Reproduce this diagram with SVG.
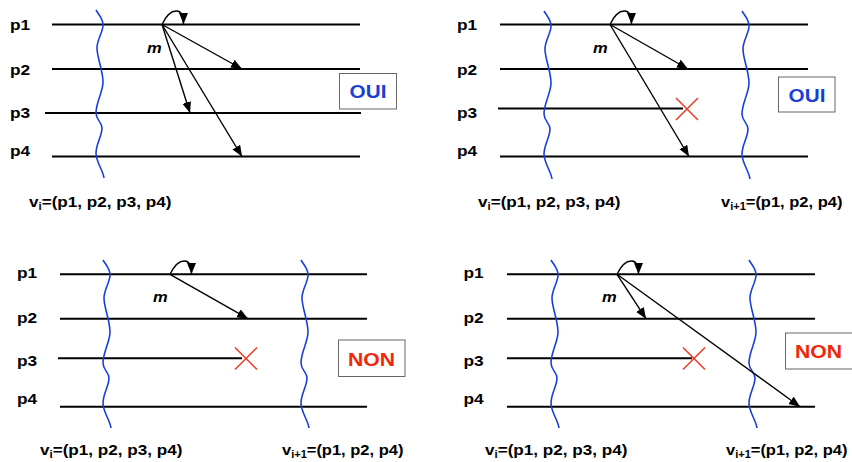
<svg xmlns="http://www.w3.org/2000/svg" xmlns:xlink="http://www.w3.org/1999/xlink" width="852" height="462" viewBox="0 0 852 462">
<style>
.proc{stroke:#000;stroke-width:2;fill:none}
.cut{stroke:#1a3fd8;stroke-width:1.6;fill:none}
.msg{stroke:#000;stroke-width:1.4;fill:none;marker-end:url(#ah)}
.lbl{font-family:"Liberation Sans",Arial,Helvetica,sans-serif;font-weight:bold;font-size:15px;fill:#000}
.vlbl{font-family:"Liberation Sans",Arial,Helvetica,sans-serif;font-weight:bold;font-size:15px;fill:#000}
.sub{font-size:10px}
.m{font-family:"Liberation Sans",Arial,Helvetica,sans-serif;font-weight:bold;font-style:italic;font-size:14px;fill:#000}
.box{fill:#fff;stroke:#666;stroke-width:1}
.oui{font-family:"Liberation Sans",Arial,Helvetica,sans-serif;font-weight:bold;font-size:18px;fill:#1a3fd8}
.non{font-family:"Liberation Sans",Arial,Helvetica,sans-serif;font-weight:bold;font-size:18px;fill:#f0280a}
.x{stroke:#ec3a22;stroke-width:1.5;fill:none}
</style>
<defs>
<marker id="ah" markerUnits="userSpaceOnUse" markerWidth="12" markerHeight="10" refX="11" refY="4.5" orient="auto">
<path d="M0,0 L11,4.5 L0,9 z" fill="#000"/>
</marker>
<path id="wave" d="M0,0 C3,5 8,10 7,16 C6,24 1,30 1,38 C1,48 7,60 7,72 C7,82 0,92 0,103 C0,110 6,112 6,118 C6,126 0,134 0,143 C0,152 7,160 8,168"/>
<path id="cross" d="M-11,-11 L11,11 M11,-11 L-11,11"/>
</defs>

<!-- Panel 1 -->
<g id="panel1">
<g id="p1-procs">
<line class="proc" x1="52" y1="24.5" x2="360" y2="24.5"/>
<line class="proc" x1="52" y1="69" x2="360" y2="69"/>
<line class="proc" x1="45" y1="113" x2="361" y2="113"/>
<line class="proc" x1="52" y1="156.5" x2="360" y2="156.5"/>
</g>
<g id="p1-labels">
<text class="lbl" transform="translate(10,30) scale(1.15,1)">p1</text>
<text class="lbl" transform="translate(10,74.5) scale(1.15,1)">p2</text>
<text class="lbl" transform="translate(10,118) scale(1.15,1)">p3</text>
<text class="lbl" transform="translate(10,155.5) scale(1.15,1)">p4</text>
<text class="m" transform="translate(147,53) scale(1.18,1)">m</text>
<text class="vlbl" transform="translate(29,207) scale(1.14,1)">v<tspan class="sub" dy="3">i</tspan><tspan dy="-3">=(p1, p2, p3, p4)</tspan></text>
</g>
<g id="p1-cut"><use href="#wave" xlink:href="#wave" class="cut" transform="translate(96,10)"/></g>
<g id="p1-box">
<rect class="box" x="339.5" y="73.5" width="57" height="35.5"/>
<text class="oui" text-anchor="middle" transform="translate(368,98) scale(1.15,1)">OUI</text>
</g>
</g>

<!-- Panel 2 -->
<g id="panel2">
<g id="p2-procs">
<line class="proc" x1="500" y1="24.5" x2="808" y2="24.5"/>
<line class="proc" x1="500" y1="69" x2="808" y2="69"/>
<line class="proc" x1="498" y1="108.5" x2="683" y2="108.5"/>
<line class="proc" x1="500" y1="156.5" x2="808" y2="156.5"/>
</g>
<g id="p2-labels">
<text class="lbl" transform="translate(457,30) scale(1.15,1)">p1</text>
<text class="lbl" transform="translate(457,74.5) scale(1.15,1)">p2</text>
<text class="lbl" transform="translate(457,118) scale(1.15,1)">p3</text>
<text class="lbl" transform="translate(457,155.5) scale(1.15,1)">p4</text>
<text class="m" transform="translate(593,53) scale(1.18,1)">m</text>
<text class="vlbl" transform="translate(478,207) scale(1.14,1)">v<tspan class="sub" dy="3">i</tspan><tspan dy="-3">=(p1, p2, p3, p4)</tspan></text>
<text class="vlbl" transform="translate(721,207) scale(1.1,1)">v<tspan class="sub" dy="3">i+1</tspan><tspan dy="-3">=(p1, p2, p4)</tspan></text>
</g>
<g id="p2-cuts">
<use href="#wave" xlink:href="#wave" class="cut" transform="translate(544,11)"/>
<use href="#wave" xlink:href="#wave" class="cut" transform="translate(742,11)"/>
</g>
<g id="p2-loss"><use href="#cross" xlink:href="#cross" class="x" transform="translate(687,109)"/></g>
<g id="p2-box">
<rect class="box" x="778.5" y="77" width="56.5" height="35"/>
<text class="oui" text-anchor="middle" transform="translate(807,101.5) scale(1.15,1)">OUI</text>
</g>
</g>

<!-- Panel 3 -->
<g id="panel3">
<g id="p3-procs">
<line class="proc" x1="60" y1="274.3" x2="367" y2="274.3"/>
<line class="proc" x1="60" y1="318.7" x2="367" y2="318.7"/>
<line class="proc" x1="58" y1="358.3" x2="242" y2="358.3"/>
<line class="proc" x1="60" y1="406.7" x2="367" y2="406.7"/>
</g>
<g id="p3-labels">
<text class="lbl" transform="translate(17,278) scale(1.15,1)">p1</text>
<text class="lbl" transform="translate(17,322.5) scale(1.15,1)">p2</text>
<text class="lbl" transform="translate(17,366) scale(1.15,1)">p3</text>
<text class="lbl" transform="translate(17,404) scale(1.15,1)">p4</text>
<text class="m" transform="translate(153,302) scale(1.18,1)">m</text>
<text class="vlbl" transform="translate(40,455) scale(1.14,1)">v<tspan class="sub" dy="3">i</tspan><tspan dy="-3">=(p1, p2, p3, p4)</tspan></text>
<text class="vlbl" transform="translate(282,455) scale(1.1,1)">v<tspan class="sub" dy="3">i+1</tspan><tspan dy="-3">=(p1, p2, p4)</tspan></text>
</g>
<g id="p3-cuts">
<use href="#wave" xlink:href="#wave" class="cut" transform="translate(103,260)"/>
<use href="#wave" xlink:href="#wave" class="cut" transform="translate(301,260)"/>
</g>
<g id="p3-loss"><use href="#cross" xlink:href="#cross" class="x" transform="translate(246,358.5)"/></g>
<g id="p3-box">
<rect class="box" x="338.5" y="340" width="66.5" height="36.5"/>
<text class="non" text-anchor="middle" transform="translate(371.5,366) scale(1.18,1)">NON</text>
</g>
</g>

<!-- Panel 4 -->
<g id="panel4">
<g id="p4-procs">
<line class="proc" x1="507" y1="274.3" x2="815" y2="274.3"/>
<line class="proc" x1="507" y1="318.7" x2="815" y2="318.7"/>
<line class="proc" x1="507" y1="358.3" x2="692" y2="358.3"/>
<line class="proc" x1="507" y1="406.7" x2="815" y2="406.7"/>
</g>
<g id="p4-labels">
<text class="lbl" transform="translate(463.5,278) scale(1.15,1)">p1</text>
<text class="lbl" transform="translate(463.5,322.5) scale(1.15,1)">p2</text>
<text class="lbl" transform="translate(463.5,366) scale(1.15,1)">p3</text>
<text class="lbl" transform="translate(463.5,404) scale(1.15,1)">p4</text>
<text class="m" transform="translate(602,302) scale(1.18,1)">m</text>
<text class="vlbl" transform="translate(485,455) scale(1.14,1)">v<tspan class="sub" dy="3">i</tspan><tspan dy="-3">=(p1, p2, p3, p4)</tspan></text>
<text class="vlbl" transform="translate(726,455) scale(1.1,1)">v<tspan class="sub" dy="3">i+1</tspan><tspan dy="-3">=(p1, p2, p4)</tspan></text>
</g>
<g id="p4-cuts">
<use href="#wave" xlink:href="#wave" class="cut" transform="translate(551,260)"/>
<use href="#wave" xlink:href="#wave" class="cut" transform="translate(749,260)"/>
</g>
<g id="p4-loss"><use href="#cross" xlink:href="#cross" class="x" transform="translate(694,358.5)"/></g>
<g id="p4-box">
<rect class="box" x="785.5" y="333" width="70" height="36"/>
<text class="non" text-anchor="middle" transform="translate(818.5,358) scale(1.18,1)">NON</text>
</g>
</g>

<!-- Connectors -->
<g id="connectors">
<path class="msg" d="M162,24.5 C166,16 171,10.5 177,11 C182,11.5 183.5,17 183.5,24"/>
<line class="msg" x1="162" y1="24.5" x2="242" y2="69"/>
<line class="msg" x1="162" y1="24.5" x2="190" y2="113"/>
<line class="msg" x1="162" y1="24.5" x2="242" y2="156.5"/>

<path class="msg" d="M610,24.5 C614,16 619,10.5 625,11 C630,11.5 631.5,17 631.5,24"/>
<line class="msg" x1="610" y1="24.5" x2="688" y2="69"/>
<line class="msg" x1="610" y1="24.5" x2="689" y2="156.5"/>

<path class="msg" d="M170,274.3 C174,266 179,260.5 185,261 C190,261.5 191.5,267 191.5,274"/>
<line class="msg" x1="170" y1="274.3" x2="248" y2="318.7"/>

<path class="msg" d="M617,274.3 C621,266 626,260.5 632,261 C637,261.5 638.5,267 638.5,274"/>
<line class="msg" x1="617" y1="274.3" x2="646" y2="318.7"/>
<line class="msg" x1="617" y1="274.3" x2="800" y2="406.7"/>
</g>
</svg>
